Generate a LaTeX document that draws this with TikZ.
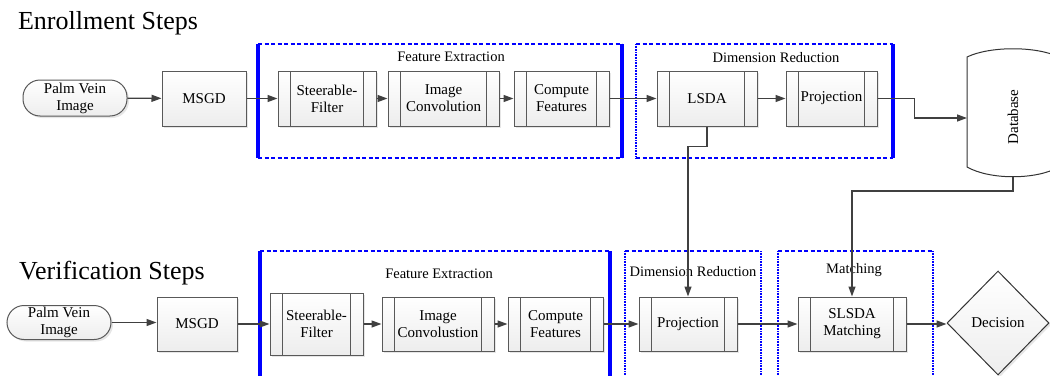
\documentclass[tikz,border=0pt]{standalone}
\usepackage{fontspec}
\setmainfont{Liberation Serif}
\usetikzlibrary{arrows.meta,shapes.geometric,shadows,calc}
\begin{document}
\begin{tikzpicture}[x=1pt,y=-1pt,
  conn/.style={draw=black!75, line width=1.3pt, -{Triangle[length=10pt,width=7pt]}},
  boxbase/.style={draw=black!65, line width=1pt, top color=white, bottom color=black!7,
     drop shadow={shadow xshift=2pt, shadow yshift=-2pt, opacity=0.2},
     font=\fontsize{15}{17}\selectfont, align=center, inner sep=0pt},
  plainbox/.style={boxbase, rectangle, minimum height=55pt},
  procbox/.style={boxbase, rectangle, minimum height=55pt,
     path picture={
       \draw[black!65, line width=1pt] ([xshift=12.5pt]path picture bounding box.north west) -- ([xshift=12.5pt]path picture bounding box.south west);
       \draw[black!65, line width=1pt] ([xshift=-12.5pt]path picture bounding box.north east) -- ([xshift=-12.5pt]path picture bounding box.south east);
     }},
  termbox/.style={boxbase, rectangle, rounded corners=17pt, minimum width=104pt, minimum height=36pt},
  framedash/.style={draw=blue, line width=1.6pt, dash pattern=on 4pt off 2.5pt},
  frameside/.style={draw=blue, line width=3.5pt},
  framesidethin/.style={draw=blue, line width=2.2pt, dash pattern=on 1pt off 0.6pt},
  grouplabel/.style={font=\fontsize{14.5}{16}\selectfont},
  title/.style={font=\fontsize{26}{30}\selectfont}
]
\useasboundingbox (0,0) rectangle (1050,375);
\clip (0,0) rectangle (1050,375);

% titles
\node[title] (t1) at (108,23) {Enrollment Steps};
\node[title] (t2) at (112,273) {Verification Steps};

% enrollment frames
\draw[framedash] (258,44) -- (622,44) (258,158) -- (622,158);
\draw[frameside] (258,44) -- (258,158) (622,44) -- (622,158);
\draw[framedash] (636,44) -- (893,44) (636,158) -- (893,158);
\draw[framesidethin] (636,44) -- (636,158);
\draw[frameside] (893,44) -- (893,158);

% verification frames
\draw[framedash] (260,251) -- (610,251);
\draw[frameside] (260,251) -- (260,380) (610,251) -- (610,380);
\draw[framedash] (625,251) -- (761,251);
\draw[framesidethin] (625,251) -- (625,380) (761,251) -- (761,380);
\draw[framedash] (778,251) -- (933,251);
\draw[framesidethin] (778,251) -- (778,380) (933,251) -- (933,380);

% group labels
\node[grouplabel] (gfe1) at (451,57) {Feature Extraction};
\node[grouplabel] (gdr1) at (776,58) {Dimension Reduction};
\node[grouplabel] (gfe2) at (439,274) {Feature Extraction};
\node[grouplabel] (gdr2) at (693,272) {Dimension Reduction};
\node[grouplabel] (gm2) at (854,270) {Matching};

% enrollment nodes
\node[termbox] (pe) at (75,98) {Palm Vein\\Image};
\node[plainbox, minimum width=84pt] (msgd) at (204,98.5) {MSGD};
\node[procbox, minimum width=98pt] (sf) at (327,98.5) {Steerable-\\Filter};
\node[procbox, minimum width=111pt] (ic) at (443.5,98.5) {Image\\Convolution};
\node[procbox, minimum width=95pt] (cf) at (561.5,98.5) {Compute\\Features};
\node[procbox, minimum width=100pt] (lsda) at (707,98.5) {LSDA};
\node[procbox, minimum width=91pt] (proj) at (831.5,98.5) {Projection};

% database cylinder
\path[draw=black!80, line width=1pt, fill=white]
  (967,57) .. controls (990,46) and (1036,46) .. (1059,57)
  -- (1059,167) .. controls (1036,180) and (990,180) .. (967,167) -- cycle;
\node[rotate=90, font=\fontsize{15}{17}\selectfont] (db) at (1013,117) {Database};
\coordinate (dbw) at (967,118);
\coordinate (dbs) at (1013,177);

% verification nodes
\node[termbox, minimum height=34pt] (pv) at (59,322.5) {Palm Vein\\Image};
\node[plainbox, minimum width=80pt, minimum height=54pt] (msgd2) at (197,324) {MSGD};
\node[procbox, minimum width=93pt, minimum height=62pt] (sf2) at (316.5,324) {Steerable-\\Filter};
\node[procbox, minimum width=112pt, minimum height=54pt] (ic2) at (438,324) {Image\\Convolustion};
\node[procbox, minimum width=95pt, minimum height=54pt] (cf2) at (555.5,324) {Compute\\Features};
\node[procbox, minimum width=98pt, minimum height=54pt] (proj2) at (688,324) {Projection};
\node[procbox, minimum width=108pt, minimum height=54pt] (slsda) at (852,324) {SLSDA\\Matching};
\node[boxbase, diamond, draw=black!80, minimum width=102pt, minimum height=104pt, inner sep=0pt] (dec) at (998,323) {Decision};

% enrollment connectors
\draw[conn] (pe) -- (msgd);
\draw[conn] (msgd) -- (sf);
\draw[conn] (sf) -- (ic);
\draw[conn] (ic) -- (cf);
\draw[conn] (cf) -- (lsda);
\draw[conn] (lsda) -- (proj);
\draw[conn] (proj.east) -- ++(37,0) |- (dbw);
\draw[conn] (lsda.south) -- ++(0,20) -| (proj2.north);
\draw[conn] (dbs) -- ++(0,14) -| (slsda.north);

% verification connectors
\draw[conn] (pv.east) -- (pv.east -| msgd2.west);
\draw[conn] (msgd2) -- (sf2);
\draw[conn] (sf2) -- (ic2);
\draw[conn] (ic2) -- (cf2);
\draw[conn] (cf2) -- (proj2);
\draw[conn] (proj2) -- (slsda);
\draw[conn] (slsda.east) -- (slsda.east -| dec.west);
\end{tikzpicture}
\end{document}
